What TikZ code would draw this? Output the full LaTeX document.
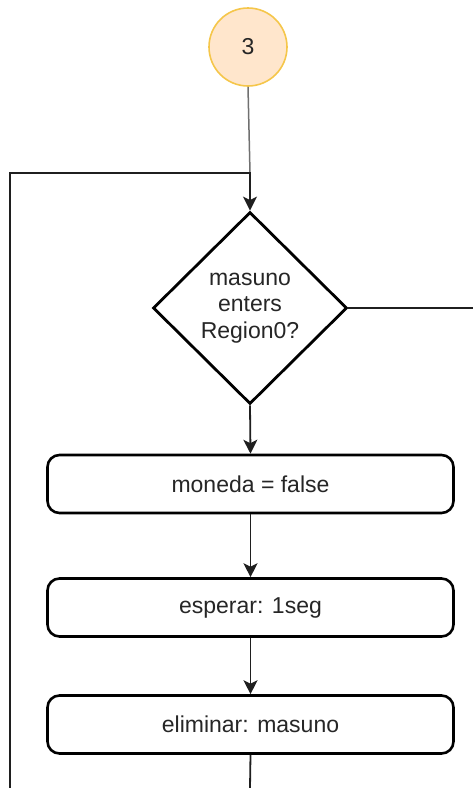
\documentclass[tikz,border=0pt]{standalone}
\usepackage{fontspec}
\setmainfont{Liberation Sans}
\usetikzlibrary{shapes.geometric,arrows.meta}

\definecolor{termfill}{HTML}{FFE6CC}
\definecolor{termline}{HTML}{F5C64A}
\definecolor{feedline}{HTML}{707070}

\tikzset{
  every node/.style={font=\fontsize{23}{26.5}\selectfont, text=black!85},
  connector/.style={circle, draw=termline, fill=termfill, line width=1.6pt,
    minimum size=78pt, inner sep=0pt},
  decision/.style={diamond, draw=black, line width=2.8pt, inner sep=0pt,
    minimum width=194pt, minimum height=192pt, align=center, fill=white},
  process/.style={rectangle, rounded corners=12pt, draw=black, line width=2.6pt,
    minimum width=406pt, minimum height=58pt, inner sep=0pt, fill=white},
  flow/.style={draw=black!88, line width=1.8pt},
  feed/.style={draw=feedline, line width=1.5pt},
  tip/.style={-{Stealth[length=14pt,width=14pt,inset=3.5pt]}}
}

\begin{document}
\begin{tikzpicture}[x=1pt,y=-1pt]
  \useasboundingbox (0,0) rectangle (473,788);

  % off-page connector and decision
  \node[connector] (start) at (248,47) {3};
  \node[decision] (dec) at (250,308) {masuno\\enters\\Region0?};

  % sequence of actions
  \node[process] (setcoin) at (250.5,484) {moneda = false};
  \node[process] (wait)    at (250.5,607.5) {esperar: 1seg};
  \node[process] (remove)  at (250.5,724.5) {eliminar: masuno};

  % routing points for the loop and the branches
  \coordinate (join)   at (250,173);
  \coordinate (corner) at (10,173);
  \coordinate (loopin) at (10,788);
  \coordinate (outR)   at (473,308);
  \coordinate (outB)   at (250,788);

  % entry from the connector
  \draw[feed] (start.south) -- (join);

  % loop back into the decision
  \draw[flow,tip] (loopin) -- (corner) -- (join) -- (dec.north);

  % "no" branch leaves to the right
  \draw[flow] (dec.east) -- (outR);

  % main sequence
  \draw[flow,tip] (dec.south) -- (setcoin.north);
  \draw[flow,tip] (setcoin.south) -- (wait.north);
  \draw[flow,tip] (wait.south) -- (remove.north);
  \draw[flow] (remove.south) -- (outB);
\end{tikzpicture}
\end{document}
